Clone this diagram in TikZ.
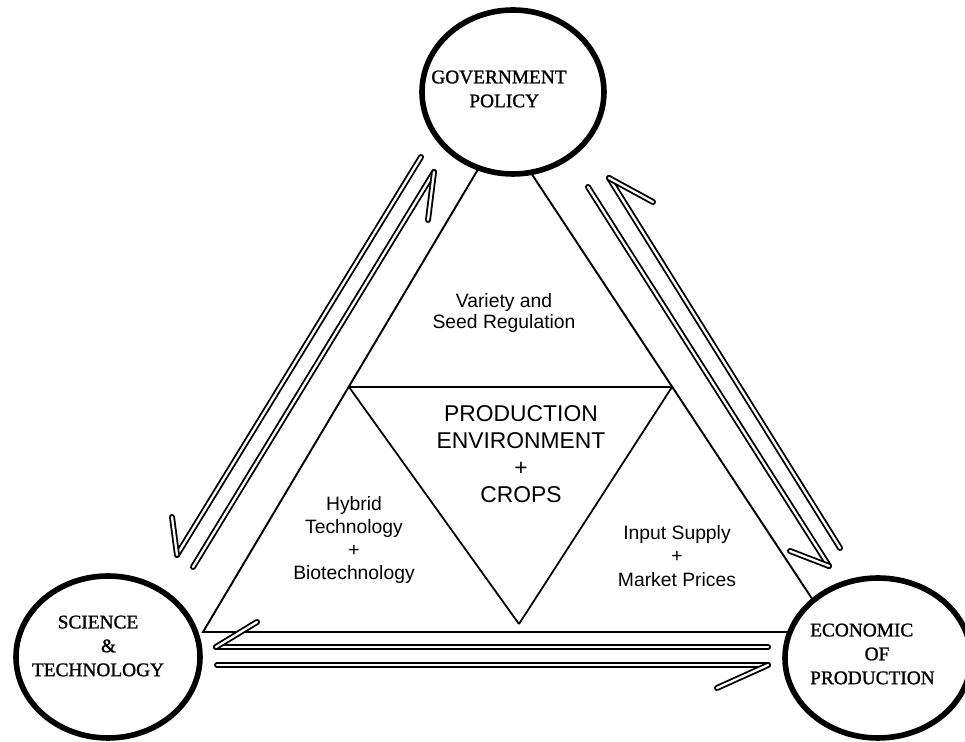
\documentclass[tikz,border=0pt]{standalone}
\usepackage{fontspec}
\setmainfont{Liberation Serif}
\setsansfont{Liberation Sans}
\newfontfamily\capsfont{Liberation Serif}[FakeBold=1.2]
\usetikzlibrary{shapes.geometric}

\begin{document}
\begin{tikzpicture}[x=0.02cm,y=-0.02cm,
	circ/.style={ellipse,draw,line width=3.2pt,fill=white,inner sep=0pt},
	dbl/.style={double,double distance=1.3pt,line width=1.05pt,line cap=round},
	caps/.style={align=center,font=\capsfont\fontsize{11}{13.6}\selectfont},
	txt/.style={align=center,font=\sffamily\fontsize{11}{12.6}\selectfont}]
	\useasboundingbox (0,0) rectangle (965,742);

	%% outer triangle
	\coordinate (t1) at (502,129);
	\coordinate (t2) at (203,632);
	\coordinate (t3) at (834,632);
	\draw[line width=1.1pt] (t1) -- (t2) -- (t3) -- cycle;

	%% inner triangle
	\coordinate (p1) at (349,387);
	\coordinate (p2) at (672,387);
	\coordinate (p3) at (519,624);
	\draw[line width=1pt] (p3) -- (p1);
	\draw[line width=1pt] (p3) -- (p2);
	\draw[line width=1.5pt] (p1) -- (p2);

	%% the three circles
	\node[circ,minimum width=3.64cm,minimum height=3.28cm] (gov) at (513,92) {};
	\node[circ,minimum width=3.68cm,minimum height=3.24cm] (sci) at (108,657) {};
	\node[circ,minimum width=3.72cm,minimum height=3.2cm] (eco) at (878,658) {};

	\node[caps] (govtext) at (499,89) {GOVERNMENT\\\hspace*{6pt}POLICY};
	\node[caps] (scitext) at (98,646) {SCIENCE\\\hspace*{12pt}\&\\TECHNOLOGY};
	\node[caps,align=left,anchor=west] (ecotext) at (804,654) {ECONOMIC\\\hspace*{31pt}OF\\PRODUCTION};

	%% texts in the triangle
	\node[txt,font=\sffamily\fontsize{11}{12}\selectfont] (seed) at (504,313) {Variety and\\Seed Regulation};
	\node[txt,font=\sffamily\fontsize{13}{15.3}\selectfont] (prod) at (521,454) {PRODUCTION\\ENVIRONMENT\\+\\CROPS};
	\node[txt,font=\sffamily\fontsize{11}{13.2}\selectfont] (hybrid) at (354,540) {Hybrid\\Technology\\+\\Biotechnology};
	\node[txt,font=\sffamily\fontsize{11}{13.3}\selectfont] (input) at (677,556) {Input Supply\\+\\Market Prices};

	%% left side: gov -> sci and sci -> gov
	\coordinate (gs1) at (421,157);
	\coordinate (gs2) at (177,555);
	\coordinate (gs3) at (172,517);
	\draw[dbl] (gs1) -- (gs2);
	\draw[dbl] (gs2) -- (gs3);

	\coordinate (sg1) at (193,567);
	\coordinate (sg2) at (434,172);
	\coordinate (sg3) at (428,220);
	\draw[dbl] (sg1) -- (sg2);
	\draw[dbl] (sg2) -- (sg3);

	%% right side: eco -> gov and gov -> eco
	\coordinate (eg1) at (840,548);
	\coordinate (eg2) at (609,178);
	\coordinate (eg3) at (653,202);
	\draw[dbl] (eg1) -- (eg2);
	\draw[dbl] (eg2) -- (eg3);

	\coordinate (ge1) at (588,187);
	\coordinate (ge2) at (829,566);
	\coordinate (ge3) at (790,551);
	\draw[dbl] (ge1) -- (ge2);
	\draw[dbl] (ge2) -- (ge3);

	%% bottom: eco -> sci and sci -> eco
	\coordinate (es1) at (768,647);
	\coordinate (es2) at (216,647);
	\coordinate (es3) at (257,622);
	\draw[dbl] (es1) -- (es2);
	\draw[dbl] (es2) -- (es3);

	\coordinate (se1) at (217,665);
	\coordinate (se2) at (768,665);
	\coordinate (se3) at (717,688);
	\draw[dbl] (se1) -- (se2);
	\draw[dbl] (se2) -- (se3);

\end{tikzpicture}
\end{document}
